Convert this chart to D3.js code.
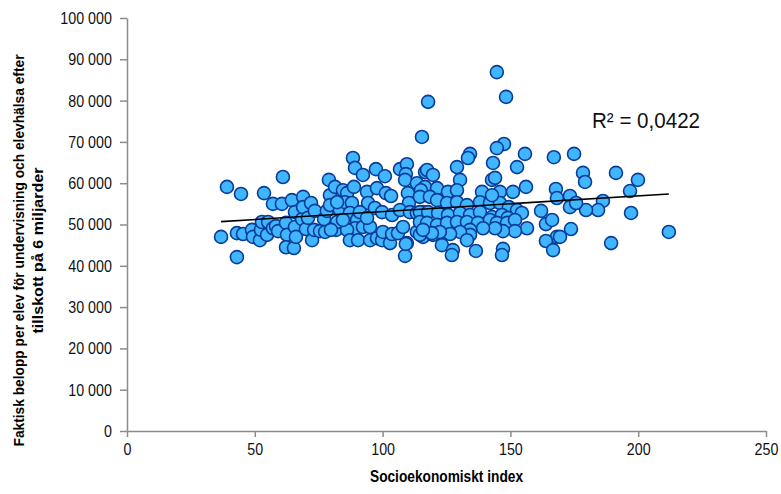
<!DOCTYPE html>
<html>
<head>
<meta charset="utf-8">
<script src="https://cdn.jsdelivr.net/npm/d3@7"></script>
<style>
  body { margin: 0; background: #fff; }
  .chart text { font-family: "Liberation Sans", Arial, sans-serif; }
</style>
</head>
<body>
<div class="chart"></div>
<script>
// SCATTER: socioekonomiskt index vs belopp per elev
const indexValues = [
	36.8, 39.1, 43.0, 44.6, 45.4, 43.0, 48.9, 49.3, 52.0, 52.4, 53.6, 52.8, 54.8, 55.2, 57.1, 57.1, 58.3, 59.1, 60.6, 61.0,
	62.2, 62.6, 62.2, 64.5, 65.3, 65.7, 65.7, 66.1, 68.5, 68.9, 68.9, 70.0, 70.8, 72.0, 72.4, 73.2, 73.5, 75.5, 77.5, 77.1,
	78.2, 79.0, 79.4, 79.4, 81.4, 84.5, 86.1, 88.4, 89.2, 88.8, 92.3, 93.9, 97.4, 97.8, 100.9, 101.3, 103.3, 106.8, 109.5, 109.1,
	108.8, 109.9, 110.3, 113.4, 116.6, 116.6, 115.0, 115.4, 117.8, 81.8, 82.2, 83.3, 85.3, 88.0, 87.2, 90.0, 89.2, 86.1, 87.2, 90.4,
	92.3, 95.1, 95.1, 97.8, 99.8, 100.1, 102.9, 103.7, 106.0, 108.0, 109.5, 108.8, 113.4, 116.6, 115.8, 94.3, 97.0, 99.8, 103.7, 106.8,
	110.7, 113.4, 115.8, 91.1, 82.2, 84.5, 114.6, 119.7, 79.8, 93.9, 144.7, 148.3, 147.5, 144.7, 134.2, 133.4, 143.2, 155.7, 152.6, 167.0,
	129.1, 117.4, 119.7, 130.3, 142.8, 144.0, 121.3, 125.6, 129.1, 138.9, 145.9, 151.0, 156.1, 167.8, 168.2, 114.6, 118.5, 121.3, 125.2, 129.1,
	133.0, 138.1, 142.0, 145.9, 149.4, 152.6, 154.5, 162.0, 114.6, 117.8, 121.7, 125.6, 130.3, 134.2, 138.1, 142.8, 146.7, 149.0, 114.6, 117.4,
	121.3, 125.2, 129.1, 133.0, 137.3, 142.0, 144.7, 148.7, 151.8, 163.9, 166.3, 156.5, 151.8, 147.1, 144.0, 139.3, 134.2, 134.2, 130.3, 126.4,
	122.4, 119.3, 115.8, 168.2, 163.9, 166.7, 123.2, 127.5, 127.1, 136.5, 147.1, 146.7, 133.0, 109.1, 142.8, 174.9, 178.4, 179.2, 191.3, 199.9,
	196.8, 186.2, 184.3, 179.6, 173.3, 173.3, 175.7, 173.7, 169.4, 189.4, 212.0, 197.2
];
const beloppValues = [
	47000, 59100, 47900, 57400, 47700, 42100, 48700, 47000, 46200, 48700, 57600, 50600, 47500, 50600, 55000, 49100, 49600, 48400, 55000, 61500,
	50400, 47500, 44500, 55900, 44300, 53000, 49400, 47000, 51300, 56700, 54200, 48900, 51600, 55200, 46200, 48700, 53300, 48400, 48200, 51300,
	53300, 60800, 57100, 54700, 59100, 58300, 57600, 66100, 63700, 59100, 62000, 57900, 63400, 58800, 61700, 57600, 56900, 63400, 64600, 62200,
	60800, 57600, 55200, 60000, 62700, 59100, 58300, 71200, 79700, 48700, 50600, 53500, 55400, 55200, 52800, 51100, 49100, 48700, 46200, 46200,
	49400, 49400, 46200, 46700, 46200, 48200, 45500, 47700, 47900, 49400, 45500, 42400, 48200, 49100, 47000, 55200, 54000, 53000, 52300, 53500,
	53000, 52800, 53000, 53000, 55400, 51100, 47500, 47500, 48700, 51600, 86900, 80900, 69500, 68500, 67100, 66100, 64900, 67100, 63900, 66300,
	63900, 63200, 62000, 60800, 60800, 61300, 58800, 57900, 58300, 57900, 57900, 57900, 59100, 58600, 56400, 56700, 56700, 55900, 55200, 55400,
	54700, 55400, 55200, 55200, 54200, 53500, 52800, 53300, 53000, 53000, 52800, 52300, 52800, 52300, 53000, 51800, 52300, 51600, 50600, 50400,
	49900, 50400, 50600, 50600, 50400, 51100, 50400, 50400, 51100, 50100, 51100, 49100, 48400, 48400, 49100, 49100, 48700, 47500, 48200, 47700,
	48200, 47900, 48700, 47000, 46000, 43800, 45000, 43800, 42600, 43600, 44100, 42600, 46200, 45300, 57100, 67100, 62500, 60300, 62500, 60800,
	58100, 55700, 53500, 53500, 56900, 54200, 55200, 48900, 47000, 45500, 48200, 52800
];
const xTicks = [0, 50, 100, 150, 200, 250];
const yTicks = [0, 10000, 20000, 30000, 40000, 50000, 60000, 70000, 80000, 90000, 100000];
// linear trend line and its R²
const trendSlope = 38.2;
const trendIntercept = 49300;
const rSquaredLabel = 'R² = 0,0422';

const points = indexValues.map((x, i) => ({ x: x, y: beloppValues[i] }));

const margin = { top: 18, right: 15, bottom: 63, left: 127 };
const width = 781 - margin.left - margin.right;
const height = 494 - margin.top - margin.bottom;
const squeeze = 0.84; // narrow the glyphs, the original uses a condensed face

const svg = d3.select('.chart')
	.append('svg')
		.attr('width', width + margin.left + margin.right)
		.attr('height', height + margin.top + margin.bottom)
	.append('g')
		.attr('transform', `translate(${margin.left}, ${margin.top})`);

const xScale = d3.scaleLinear().domain([0, 250]).range([0, width]);
const yScale = d3.scaleLinear().domain([0, 100000]).range([height, 0]);

const sv = d3.formatLocale({ decimal: ',', thousands: ' ', grouping: [3], currency: ['', ''] });
const fmt = sv.format(',d');

// axes
const xAxis = svg.append('g')
	.attr('transform', `translate(0, ${height})`)
	.call(d3.axisBottom(xScale).tickValues(xTicks).tickSize(6).tickSizeOuter(0).tickPadding(6));

const yAxis = svg.append('g')
	.call(d3.axisLeft(yScale).tickValues(yTicks).tickFormat(fmt).tickSize(7).tickSizeOuter(0).tickPadding(11));

[xAxis, yAxis].forEach(ax => {
	ax.selectAll('path, line').style('stroke', '#8c8c8c').style('stroke-width', 1.5);
	ax.selectAll('text')
		.style('font-size', '17px')
		.style('fill', '#111')
		.attr('transform', `scale(${squeeze}, 1)`);
});

// points
svg.selectAll('.dot')
	.data(points)
	.enter()
	.append('circle')
	.attr('class', 'dot')
	.attr('cx', d => xScale(d.x))
	.attr('cy', d => yScale(d.y))
	.attr('r', 6.5)
	.style('fill', '#3fb6ff')
	.style('stroke', '#0a3c96')
	.style('stroke-width', 1.6);

// trend line
const xExtent = d3.extent(indexValues);
svg.append('line')
	.attr('x1', xScale(xExtent[0]))
	.attr('y1', yScale(trendIntercept + trendSlope * xExtent[0]))
	.attr('x2', xScale(xExtent[1]))
	.attr('y2', yScale(trendIntercept + trendSlope * xExtent[1]))
	.style('stroke', '#000')
	.style('stroke-width', 1.6);

svg.append('text')
	.attr('x', 465)
	.attr('y', 110)
	.attr('textLength', 108)
	.attr('lengthAdjust', 'spacingAndGlyphs')
	.style('font-size', '22px')
	.style('fill', '#111')
	.text(rSquaredLabel);

// axis titles
svg.append('text')
	.attr('x', width / 2)
	.attr('y', height + 51)
	.attr('text-anchor', 'middle')
	.attr('textLength', 153)
	.attr('lengthAdjust', 'spacingAndGlyphs')
	.style('font-size', '16px')
	.style('font-weight', 'bold')
	.text('Socioekonomiskt index');

const yTitle = svg.append('text')
	.attr('transform', `translate(${-103}, ${height / 2 + 26}) rotate(-90)`)
	.attr('text-anchor', 'middle')
	.style('font-size', '15px')
	.style('font-weight', 'bold');
yTitle.append('tspan').attr('x', 0).attr('dy', 0)
	.attr('textLength', 392).attr('lengthAdjust', 'spacingAndGlyphs')
	.text('Faktisk belopp per elev för undervisning och elevhälsa efter');
yTitle.append('tspan').attr('x', 0).attr('dy', 19)
	.attr('textLength', 166).attr('lengthAdjust', 'spacingAndGlyphs')
	.text('tillskott på 6 miljarder');
</script>
</body>
</html>
